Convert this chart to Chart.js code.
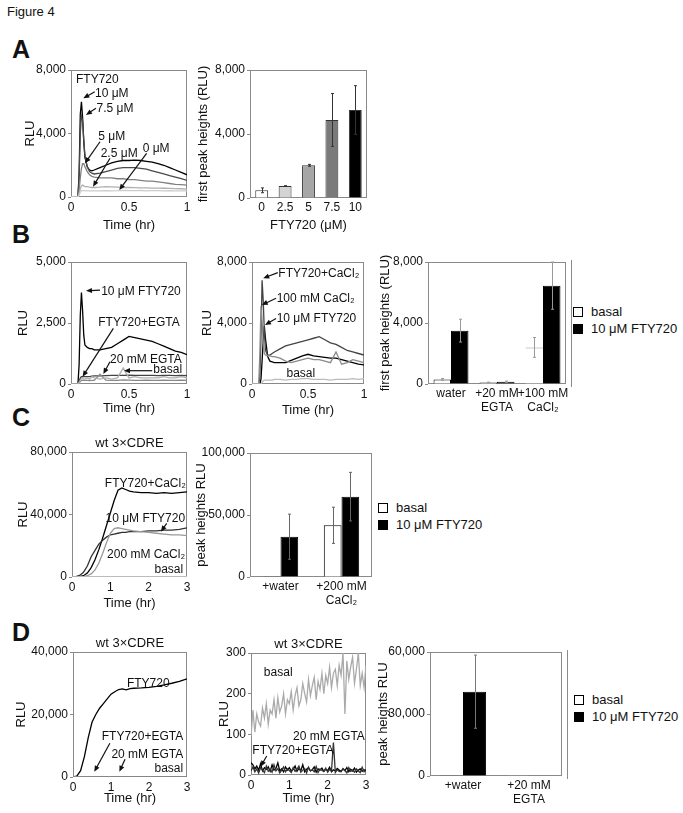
<!DOCTYPE html>
<html lang="en">
<head>
<meta charset="UTF-8">
<title>Figure 4</title>
<script src="https://cdn.jsdelivr.net/npm/chart.js"></script>
<style>
  body { margin: 0; background: #fff; font-family: "Liberation Sans", Arial, sans-serif; color: #111; }
  #page { position: relative; width: 683px; height: 813px; overflow: hidden; }
  canvas { position: absolute; }
  .fig { position: absolute; left: 7px; top: 5px; font-size: 13px; line-height: 13px; }
  .lbl { position: absolute; left: 12px; font-weight: bold; font-size: 25px; line-height: 25px; }
  .legend { position: absolute; font-size: 13px; }
  .legend div { display: flex; align-items: center; height: 17px; white-space: nowrap; }
  .legend span { box-sizing: border-box; width: 10px; height: 10px; border: 1px solid #000; margin-right: 8px; }
</style>
</head>
<body>
<div id="page">
  <div class="fig">Figure 4</div>
  <div class="lbl" style="top:37px">A</div>
  <div class="lbl" style="top:222px">B</div>
  <div class="lbl" style="top:405px">C</div>
  <div class="lbl" style="top:620px">D</div>

  <div class="legend" style="left:573px; top:303px">
    <div><span style="background:#fff"></span>basal</div>
    <div><span style="background:#000"></span>10 μM FTY720</div>
  </div>
  <div class="legend" style="left:378px; top:499px">
    <div><span style="background:#fff"></span>basal</div>
    <div><span style="background:#000"></span>10 μM FTY720</div>
  </div>
  <div class="legend" style="left:574px; top:691px">
    <div><span style="background:#fff"></span>basal</div>
    <div><span style="background:#000"></span>10 μM FTY720</div>
  </div>
</div>

<script>
// ---- A: luminescence traces, 0-1 hr ----
const tA = [0, 0.06, 0.07, 0.08, 0.09, 0.1, 0.11, 0.12, 0.14, 0.16, 0.18, 0.2, 0.25, 0.3, 0.35, 0.4, 0.45, 0.5, 0.55, 0.6, 0.65, 0.7, 0.75, 0.8, 0.85, 0.9, 0.95, 1.0];
const a10  = [0, 0, 1500, 5200, 6000, 5000, 3500, 2500, 1900, 1700, 1650, 1700, 1850, 2000, 2150, 2250, 2300, 2300, 2320, 2300, 2250, 2200, 2100, 2000, 1850, 1700, 1550, 1400];
const a75  = [0, 0, 1200, 4000, 5100, 4800, 3600, 2600, 1900, 1600, 1500, 1450, 1500, 1600, 1700, 1800, 1850, 1850, 1850, 1800, 1750, 1650, 1550, 1450, 1350, 1250, 1150, 1050];
const a5   = [0, 0, 400, 1200, 1800, 2100, 2100, 1900, 1600, 1400, 1300, 1250, 1200, 1200, 1200, 1150, 1150, 1100, 1100, 1050, 1000, 1000, 950, 900, 850, 800, 780, 750];
const a25  = [0, 0, 200, 500, 700, 750, 700, 650, 650, 620, 600, 600, 620, 650, 640, 620, 600, 600, 590, 580, 570, 560, 560, 550, 540, 530, 520, 500];
const a0   = [0, 0, 100, 300, 400, 420, 400, 400, 380, 380, 380, 380, 380, 400, 390, 400, 420, 400, 400, 410, 390, 400, 400, 390, 400, 380, 390, 380];

// A: first peak heights
const doseLabels = ['0', '2.5', '5', '7.5', '10'];
const doseMeans  = [480, 750, 2040, 4880, 5500];
const doseErrs   = [150, 20, 60, 1650, 1520];
const doseColors = ['#ffffff', '#d4d4d4', '#a6a6a6', '#7a7a7a', '#000000'];

// ---- B: traces ----
const bFty   = [0, 0, 800, 2800, 3750, 3000, 2000, 1600, 1500, 1450, 1450, 1400, 1400, 1450, 1500, 1650, 1800, 1950, 1900, 1850, 1800, 1750, 1650, 1550, 1450, 1350, 1300, 1200];
const bFtyEg = [0, 0, 100, 250, 300, 300, 300, 300, 300, 300, 320, 330, 330, 340, 350, 350, 350, 360, 350, 350, 350, 350, 340, 350, 350, 340, 350, 340];
const bEgta  = [0, 0, 50, 100, 150, 150, 150, 150, 150, 140, 150, 150, 400, 160, 150, 150, 170, 160, 150, 150, 160, 150, 150, 160, 150, 150, 160, 150];
const bBasal = [0, 0, 50, 150, 200, 250, 200, 200, 250, 200, 300, 250, 200, 250, 200, 250, 650, 250, 300, 250, 250, 250, 250, 300, 250, 250, 300, 250];

const bCaFty = [0, 0, 500, 3000, 6800, 5500, 3500, 2200, 1900, 1900, 2000, 2100, 2300, 2500, 2600, 2700, 2800, 2900, 3000, 3100, 2900, 2700, 2600, 2400, 2200, 2100, 2000, 1900];
const bCa    = [0, 0, 2000, 5100, 4200, 2800, 2000, 1900, 1850, 1850, 1800, 1800, 1700, 1500, 1400, 1500, 1600, 1700, 1600, 1600, 1500, 1400, 2100, 1300, 1400, 1600, 1500, 1400];
const bFty2  = [0, 0, 0, 300, 1500, 2800, 3800, 3000, 1800, 1500, 1450, 1400, 1400, 1400, 1550, 1700, 1850, 1950, 1850, 1800, 1750, 1700, 1700, 1600, 1500, 1400, 1300, 1250];
const bBas2  = [0, 0, 0, 0, 100, 200, 250, 250, 250, 250, 250, 300, 300, 250, 300, 300, 350, 350, 300, 300, 300, 250, 300, 300, 300, 350, 300, 350];

// B: first peak heights
const bCats     = ['water', ['+20 mM', 'EGTA'], ['+100 mM', 'CaCl₂']];
const bBasalBar = [300, 100, 2400];
const bBasalErr = [60, 20, 650];
const bFtyBar   = [3500, 150, 6450];
const bFtyErr   = [750, 40, 1550];

// ---- C: CDRE reporter, 0-3 hr ----
const tC = [0, 0.1, 0.2, 0.3, 0.4, 0.5, 0.6, 0.7, 0.8, 0.9, 1.0, 1.1, 1.2, 1.3, 1.4, 1.5, 1.6, 1.8, 2.0, 2.2, 2.4, 2.6, 2.8, 3.0];
const cFtyCa = [0, 0, 200, 800, 2500, 6000, 11000, 17500, 25000, 33000, 41000, 49000, 55500, 57000, 56000, 55000, 54500, 54000, 54000, 53500, 54000, 53500, 54000, 54500];
const cFty   = [0, 200, 1000, 3000, 7000, 13000, 17000, 21000, 23500, 25500, 27000, 27500, 28000, 28500, 28500, 29000, 29000, 29000, 29500, 29500, 30000, 30000, 30500, 31500];
const cCa    = [0, 0, 0, 200, 800, 2000, 4500, 9000, 15000, 22000, 28000, 31000, 31500, 31000, 30500, 30000, 29500, 29000, 28500, 28000, 27500, 27000, 27000, 26500];
const cBasal = [0, 100, 200, 200, 300, 300, 300, 300, 300, 300, 300, 300, 300, 300, 300, 300, 300, 300, 300, 300, 300, 300, 300, 300];

const cCats     = ['+water', ['+200 mM', 'CaCl₂']];
const cBasalBar = [300, 41700];
const cBasalErr = [0, 14600];
const cFtyBar   = [32500, 64800];
const cFtyErr   = [18200, 19600];

// ---- D ----
const dFty   = [0, 300, 2000, 6500, 12500, 17500, 20000, 22000, 23500, 25000, 26500, 27300, 28000, 28200, 27900, 28300, 28400, 28500, 28700, 29000, 29500, 30000, 30600, 31400];
const dFtyEg = [0, 40, 60, 70, 70, 80, 70, 80, 70, 80, 70, 80, 70, 80, 70, 80, 70, 80, 70, 80, 70, 80, 70, 80];
const dEgta  = [0, 20, 30, 30, 40, 30, 40, 30, 40, 30, 40, 30, 40, 30, 40, 30, 40, 30, 40, 30, 40, 30, 40, 30];
const dBasal = [0, 20, 40, 50, 50, 60, 50, 60, 50, 60, 50, 60, 50, 60, 50, 60, 50, 60, 50, 60, 50, 60, 50, 60];

const tD2 = [0, 0.05, 0.1, 0.15, 0.2, 0.25, 0.3, 0.35, 0.4, 0.45,
  0.5, 0.55, 0.6, 0.65, 0.7, 0.75, 0.8, 0.85, 0.9, 0.95,
  1.0, 1.05, 1.1, 1.15, 1.2, 1.25, 1.3, 1.35, 1.4, 1.45,
  1.5, 1.55, 1.6, 1.65, 1.7, 1.75, 1.8, 1.85, 1.9, 1.95,
  2.0, 2.05, 2.1, 2.15, 2.2, 2.25, 2.3, 2.35, 2.4, 2.45,
  2.5, 2.55, 2.6, 2.65, 2.7, 2.75, 2.8, 2.85, 2.9, 2.95, 3.0];
const d2Basal = [95, 160, 105, 150, 130, 120, 165, 140, 175, 125,
  160, 150, 185, 140, 190, 155, 170, 200, 150, 185,
  175, 205, 160, 195, 215, 170, 185, 225, 200, 180,
  235, 195, 220, 240, 185, 230, 210, 250, 200, 245,
  225, 265, 215, 250, 260, 220, 270, 245, 300, 150,
  280, 235, 265, 290, 225, 260, 300, 220, 250, 215, 270];
const d2Egta = [10, 20, 8, 15, 5, 18, 12, 6, 22, 9,
  14, 7, 25, 10, 16, 5, 12, 20, 8, 15,
  11, 6, 18, 9, 14, 22, 7, 12, 16, 5,
  19, 10, 13, 8, 21, 6, 15, 11, 9, 17,
  7, 14, 10, 80, 6, 13, 9, 8, 16, 11,
  5, 18, 9, 12, 7, 15, 10, 6, 19, 8, 14];
const d2FtyEg = [30, 25, 15, 22, 12, 28, 10, 18, 14, 20,
  9, 25, 12, 16, 30, 10, 15, 8, 20, 12,
  18, 10, 14, 22, 9, 16, 11, 25, 8, 14,
  18, 10, 13, 20, 7, 15, 12, 17, 9, 14,
  11, 19, 8, 13, 10, 16, 12, 9, 15, 11,
  18, 8, 14, 10, 17, 7, 12, 15, 9, 13, 10];

const dCats     = ['+water', ['+20 mM', 'EGTA']];
const dBasalBar = [150, 80];
const dFtyBar   = [40800, 250];
const dFtyErr   = [17700, 0];

// ---------------------------------------------------------------
const FONT = '"Liberation Sans", Arial, sans-serif';
Chart.defaults.font.family = FONT;
Chart.defaults.font.size = 12;
Chart.defaults.color = '#111';

function pts(t, v) { return t.map((x, i) => ({ x: x, y: v[i] })); }

function arrow(ctx, x1, y1, x2, y2) {
  const ang = Math.atan2(y2 - y1, x2 - x1), L = 6, W = 2.6;
  const c = Math.cos(ang), s = Math.sin(ang);
  ctx.beginPath();
  ctx.moveTo(x1, y1);
  ctx.lineTo(x2 - L * 0.7 * c, y2 - L * 0.7 * s);
  ctx.stroke();
  ctx.beginPath();
  ctx.moveTo(x2, y2);
  ctx.lineTo(x2 - L * c + W * s, y2 - L * s - W * c);
  ctx.lineTo(x2 - L * c - W * s, y2 - L * s + W * c);
  ctx.closePath();
  ctx.fill();
}

const figPlugin = {
  id: 'fig',
  beforeDatasetsDraw(chart) {
    const { ctx, chartArea: a } = chart;
    ctx.save();
    ctx.strokeStyle = '#8a8a8a';
    ctx.lineWidth = 1;
    ctx.strokeRect(a.left + 0.5, a.top + 0.5, a.width - 1, a.height - 1);
    ctx.restore();
  },
  afterDatasetsDraw(chart, args, o) {
    const { ctx, chartArea: a, scales: { x, y } } = chart;
    ctx.save();
    // error bars
    chart.data.datasets.forEach((ds, i) => {
      if (!ds.errors) return;
      const meta = chart.getDatasetMeta(i);
      ctx.strokeStyle = o.errColor || '#555';
      ctx.lineWidth = 1;
      meta.data.forEach((bar, j) => {
        const e = ds.errors[j];
        if (!e) return;
        const v = ds.data[j];
        const yt = y.getPixelForValue(v + e), yb = y.getPixelForValue(Math.max(v - e, 0));
        const bx = Math.round(bar.x) + 0.5;
        ctx.beginPath();
        ctx.moveTo(bx, yt); ctx.lineTo(bx, yb);
        ctx.moveTo(bx - 1.5, yt); ctx.lineTo(bx + 1.5, yt);
        ctx.moveTo(bx - 1.5, yb); ctx.lineTo(bx + 1.5, yb);
        ctx.stroke();
      });
    });
    if (o.sideLine) {
      ctx.strokeStyle = '#8a8a8a';
      ctx.beginPath();
      ctx.moveTo(a.right + 5.5, a.top - 2);
      ctx.lineTo(a.right + 5.5, a.bottom + 3);
      ctx.stroke();
    }
    // arrows and labels
    ctx.fillStyle = '#111';
    ctx.strokeStyle = '#111';
    ctx.lineWidth = 1.2;
    (o.arrows || []).forEach(r => {
      arrow(ctx, x.getPixelForValue(r[0]), y.getPixelForValue(r[1]), x.getPixelForValue(r[2]), y.getPixelForValue(r[3]));
    });
    ctx.font = '12px ' + FONT;
    ctx.textBaseline = 'middle';
    (o.notes || []).forEach(n => {
      ctx.textAlign = n[3] || 'left';
      ctx.fillText(n[0], x.getPixelForValue(n[1]), y.getPixelForValue(n[2]));
    });
    if (o.title) {
      ctx.font = '13px ' + FONT;
      ctx.textAlign = 'center';
      ctx.fillText(o.title, (a.left + a.right) / 2, a.top - 9);
    }
    ctx.restore();
  }
};

function yAxis(max, step, title) {
  return {
    min: 0, max: max,
    ticks: { stepSize: step, padding: 2, font: { size: 12 } },
    grid: { display: true, drawOnChartArea: false, drawTicks: true, tickLength: 3, color: '#8a8a8a' },
    border: { display: false },
    title: { display: true, text: title, font: { size: 13 }, padding: 4, color: '#111' }
  };
}
function xTime(max, step) {
  return {
    type: 'linear', min: 0, max: max,
    ticks: { stepSize: step, padding: 3, maxRotation: 0, font: { size: 12 }, callback: v => String(v) },
    grid: { display: false, drawTicks: false },
    border: { display: false },
    title: { display: true, text: 'Time (hr)', font: { size: 13 }, padding: 4, color: '#111' }
  };
}
function xCat(title) {
  return {
    type: 'category',
    ticks: { padding: 3, maxRotation: 0, autoSkip: false, font: { size: 12, lineHeight: 1.15 } },
    grid: { display: false, drawTicks: false },
    border: { display: false },
    title: { display: !!title, text: title || '', font: { size: 13 }, padding: 4, color: '#111' }
  };
}
function line(label, t, v, color) {
  return { label: label, data: pts(t, v), borderColor: color, borderWidth: 1.3, pointRadius: 0, tension: 0, fill: false };
}

// box = plot area [left, top, right, bottom] in page px; pad = [left, top, right, bottom]
function draw(id, box, pad, type, data, scales, fig) {
  const cv = document.createElement('canvas');
  cv.id = id;
  cv.width = box[2] - box[0] + pad[0] + pad[2];
  cv.height = box[3] - box[1] + pad[1] + pad[3];
  cv.style.left = (box[0] - pad[0]) + 'px';
  cv.style.top = (box[1] - pad[1]) + 'px';
  document.getElementById('page').appendChild(cv);
  scales.y.afterFit = s => { s.width = pad[0]; };
  scales.x.afterFit = s => { s.height = pad[3]; };
  return new Chart(cv, {
    type: type,
    data: data,
    options: {
      responsive: false, animation: false, devicePixelRatio: 1,
      layout: { padding: { left: 0, top: pad[1], right: pad[2], bottom: 0 } },
      scales: scales,
      plugins: {
        legend: { display: false },
        tooltip: { enabled: false },
        fig: fig || {}
      }
    },
    plugins: [figPlugin]
  });
}

// A left
draw('a1', [71, 70, 187, 197], [52, 15, 12, 40], 'line', {
  datasets: [
    line('0 μM', tA, a0, '#cccccc'),
    line('2.5 μM', tA, a25, '#b0b0b0'),
    line('5 μM', tA, a5, '#808080'),
    line('7.5 μM', tA, a75, '#4a4a4a'),
    line('10 μM', tA, a10, '#000000')
  ]
}, { x: xTime(1, 0.5), y: yAxis(8000, 4000, 'RLU') }, {
  notes: [['FTY720', 0.043, 7370], ['10 μM', 0.207, 6530], ['7.5 μM', 0.22, 5590], ['5 μM', 0.235, 3800], ['2.5 μM', 0.256, 2710], ['0 μM', 0.618, 3070]],
  arrows: [[0.205, 6630, 0.106, 6220], [0.215, 5590, 0.129, 5170], [0.25, 3480, 0.12, 2120], [0.336, 2440, 0.19, 650], [0.652, 2750, 0.416, 440]]
});

// A right
draw('a2', [250, 70, 367, 198], [58, 15, 8, 39], 'bar', {
  labels: doseLabels,
  datasets: [{ label: 'first peak', data: doseMeans, errors: doseErrs, backgroundColor: doseColors, borderColor: '#333', borderWidth: 1, categoryPercentage: 1, barPercentage: 0.55 }]
}, { x: xCat('FTY720 (μM)'), y: yAxis(8000, 4000, 'first peak heights (RLU)') }, { errColor: '#333' });

// B left
draw('b1', [71, 262, 187, 384], [59, 15, 12, 36], 'line', {
  datasets: [
    line('basal', tA, bBasal, '#b0b0b0'),
    line('20 mM EGTA', tA, bEgta, '#888888'),
    line('FTY720+EGTA', tA, bFtyEg, '#444444'),
    line('10 μM FTY720', tA, bFty, '#000000')
  ]
}, { x: xTime(1, 0.5), y: yAxis(5000, 2500, 'RLU') }, {
  notes: [['10 μM FTY720', 0.26, 3780], ['FTY720+EGTA', 0.235, 2510], ['20 mM EGTA', 0.336, 980], ['basal', 0.71, 570]],
  arrows: [[0.25, 3850, 0.129, 3820], [0.365, 2280, 0.1, 300], [0.336, 915, 0.279, 410], [0.7, 545, 0.457, 545]]
});

// B middle
draw('b2', [252, 262, 364, 384], [56, 15, 12, 38], 'line', {
  datasets: [
    line('basal', tA, bBas2, '#bbbbbb'),
    line('100 mM CaCl₂', tA, bCa, '#8a8a8a'),
    line('FTY720+CaCl₂', tA, bCaFty, '#444444'),
    line('10 μM FTY720', tA, bFty2, '#000000')
  ]
}, { x: xTime(1, 0.5), y: yAxis(8000, 4000, 'RLU') }, {
  notes: [['FTY720+CaCl₂', 0.235, 7260], ['100 mM CaCl₂', 0.22, 5620], ['10 μM FTY720', 0.22, 4300], ['basal', 0.436, 700, 'center']],
  arrows: [[0.23, 7300, 0.10, 6930], [0.215, 5620, 0.087, 5180], [0.215, 4300, 0.116, 3870]]
});

// B right
draw('b3', [428, 262, 566, 384], [54, 15, 8, 40], 'bar', {
  labels: bCats,
  datasets: [
    { label: 'basal', data: bBasalBar, errors: bBasalErr, backgroundColor: '#fff', borderColor: ['#000', '#000', '#999'], borderWidth: [1, 1, { top: 1, left: 0, right: 0, bottom: 0 }], categoryPercentage: 0.76, barPercentage: 1 },
    { label: '10 μM FTY720', data: bFtyBar, errors: bFtyErr, backgroundColor: '#000', borderColor: '#000', borderWidth: 1, categoryPercentage: 0.76, barPercentage: 1 }
  ]
}, { x: xCat(), y: yAxis(8000, 4000, 'first peak heights (RLU)') }, { errColor: '#999', sideLine: true });

// C left
draw('c1', [72, 452, 187, 577], [60, 24, 12, 38], 'line', {
  datasets: [
    line('basal', tC, cBasal, '#bbbbbb'),
    line('200 mM CaCl₂', tC, cCa, '#999999'),
    line('10 μM FTY720', tC, cFty, '#333333'),
    line('FTY720+CaCl₂', tC, cFtyCa, '#000000')
  ]
}, { x: xTime(3, 1), y: yAxis(80000, 40000, 'RLU') }, {
  title: 'wt 3×CDRE',
  notes: [['FTY720+CaCl₂', 2.97, 59500, 'right'], ['10 μM FTY720', 2.95, 37550, 'right'], ['200 mM CaCl₂', 2.95, 14080, 'right'], ['basal', 2.9, 4480, 'right']],
  arrows: [[2.47, 34350, 2.32, 29000]]
});

// C right
draw('c2', [250, 453, 372, 577], [60, 15, 8, 40], 'bar', {
  labels: cCats,
  datasets: [
    { label: 'basal', data: cBasalBar, errors: cBasalErr, backgroundColor: '#fff', borderColor: '#000', borderWidth: 1, categoryPercentage: 0.58, barPercentage: 1 },
    { label: '10 μM FTY720', data: cFtyBar, errors: cFtyErr, backgroundColor: '#000', borderColor: '#000', borderWidth: 1, categoryPercentage: 0.58, barPercentage: 1 }
  ]
}, { x: xCat(), y: yAxis(100000, 50000, 'peak heights RLU') }, { errColor: '#666' });

// D left
draw('d1', [73, 652, 187, 777], [63, 24, 12, 33], 'line', {
  datasets: [
    line('basal', tC, dBasal, '#999999'),
    line('20 mM EGTA', tC, dEgta, '#555555'),
    line('FTY720+EGTA', tC, dFtyEg, '#333333'),
    line('FTY720', tC, dFty, '#000000')
  ]
}, { x: xTime(3, 1), y: yAxis(40000, 20000, 'RLU') }, {
  title: 'wt 3×CDRE',
  notes: [['FTY720', 1.98, 30000, 'center'], ['FTY720+EGTA', 2.9, 12900, 'right'], ['20 mM EGTA', 2.9, 7040, 'right'], ['basal', 2.9, 2770, 'right']],
  arrows: [[0.97, 10780, 0.56, 1700], [1.37, 5660, 1.22, 1700]]
});

// D middle
draw('d2', [251, 653, 366, 775], [38, 24, 12, 35], 'line', {
  datasets: [
    line('basal', tD2, d2Basal, '#aaaaaa'),
    line('20 mM EGTA', tD2, d2Egta, '#333333'),
    line('FTY720+EGTA', tD2, d2FtyEg, '#000000')
  ]
}, { x: xTime(3, 1), y: yAxis(300, 100, 'RLU') }, {
  title: 'wt 3×CDRE',
  notes: [['basal', 0.71, 252, 'center'], ['20 mM EGTA', 2.97, 94, 'right'], ['FTY720+EGTA', 0.035, 60]],
  arrows: [[0.41, 46.7, 0.25, 20.5]]
});

// D right
draw('d3', [430, 652, 562, 776], [58, 15, 8, 35], 'bar', {
  labels: dCats,
  datasets: [
    { label: 'basal', data: dBasalBar, backgroundColor: '#fff', borderColor: '#000', borderWidth: 1, categoryPercentage: 0.7, barPercentage: 1 },
    { label: '10 μM FTY720', data: dFtyBar, errors: dFtyErr, backgroundColor: '#000', borderColor: '#000', borderWidth: 1, categoryPercentage: 0.7, barPercentage: 1 }
  ]
}, { x: xCat(), y: yAxis(60000, 30000, 'peak heights RLU') }, { errColor: '#777', sideLine: true });
</script>
</body>
</html>
